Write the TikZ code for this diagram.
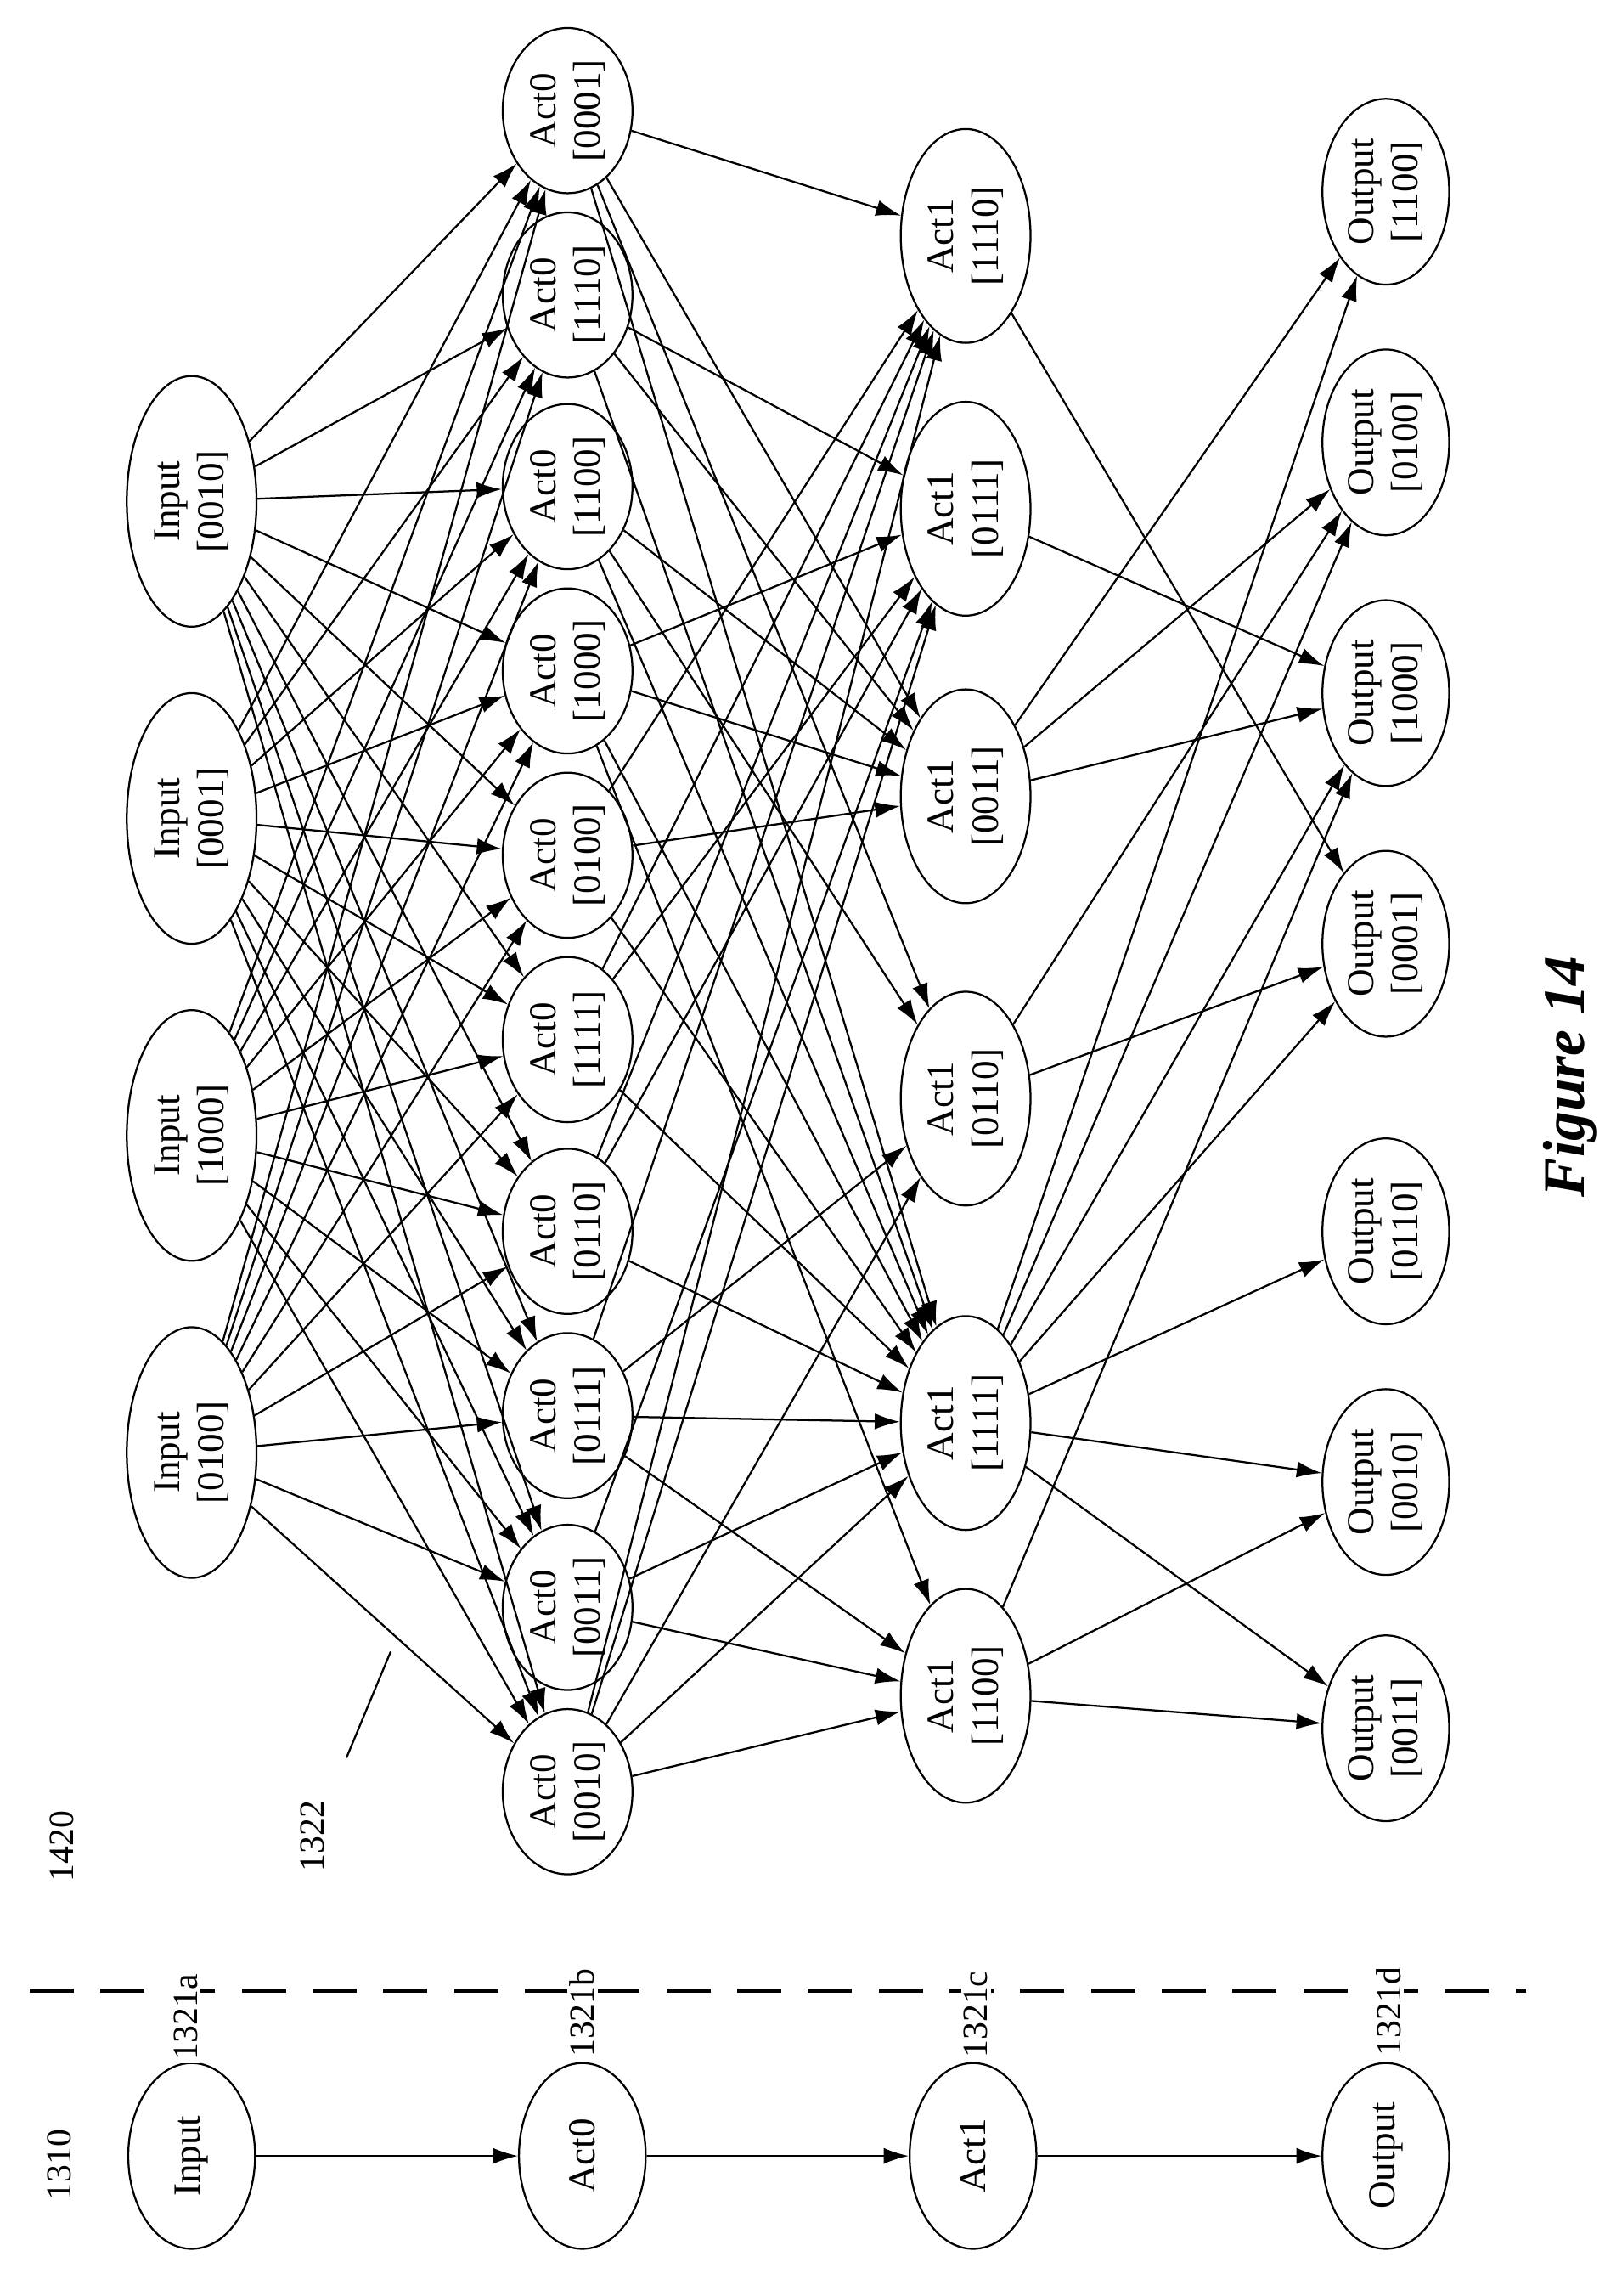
\documentclass[tikz,border=0pt]{standalone}
\usepackage{fontspec}
\setmainfont{Liberation Serif}
\usetikzlibrary{shapes.geometric, arrows.meta}
\begin{document}
\begin{tikzpicture}[x = 1pt, y = -1pt, line width = 1.3pt,
  box/.style = {draw = black, shape = ellipse, rotate = 90, inner sep = 0pt,
    align = center, font = \fontsize{26}{30}\selectfont},
  lbl/.style = {rotate = 90, inner sep = 2pt, font = \fontsize{24}{28}\selectfont},
  edge/.style = {draw, -{Latex[length = 17pt, width = 11pt]}}]
\useasboundingbox (0, 0) rectangle (1100, 1557);

% left chain
\node [box, minimum width = 126pt, minimum height = 86pt] (cin) at (130, 1462) {Input};
\node [box, minimum width = 126pt, minimum height = 86pt] (cact0) at (395, 1462) {Act0};
\node [box, minimum width = 126pt, minimum height = 86pt] (cact1) at (660, 1462) {Act1};
\node [box, minimum width = 126pt, minimum height = 86pt] (cout) at (940, 1462) {Output};
\path [edge] (cin) -- (cact0);
\path [edge] (cact0) -- (cact1);
\path [edge] (cact1) -- (cout);

\path [draw, line width = 3pt, dash pattern = on 30pt off 18pt] (20, 1350) -- (1035, 1350);

\node [lbl] (l1310) at (40, 1468) {1310};
\node [lbl, fill = white] (l1321a) at (126, 1368) {1321a};
\node [lbl, fill = white] (l1321b) at (395, 1365) {1321b};
\node [lbl, fill = white] (l1321c) at (662, 1366) {1321c};
\node [lbl, fill = white] (l1321d) at (942, 1364) {1321d};
\node [lbl] (l1420) at (42, 1252) {1420};
\node [lbl] (l1322) at (212, 1245) {1322};
\coordinate (s1322) at (235, 1192);
\coordinate (c1322) at (265, 1120);
\path [draw] (s1322) -- (c1322);

% input layer
\foreach \v/\y in {0100/985, 1000/770, 0001/555, 0010/340}
  \node [box, minimum width = 170pt, minimum height = 88pt] (in\v) at (130, \y) {Input\\{[}\v{]}};

% act0 layer
\foreach \v/\y in {0001/75, 1110/200, 1100/330, 1000/455, 0100/580, 1111/705, 0110/835, 0111/960, 0011/1090, 0010/1215}
  \node [box, minimum width = 112pt, minimum height = 88pt] (a\v) at (385, \y) {Act0\\{[}\v{]}};

% act1 layer
\foreach \v/\y in {1110/160, 0111/345, 0011/540, 0110/745, 1111/965, 1100/1150}
  \node [box, minimum width = 145pt, minimum height = 88pt] (b\v) at (655, \y) {Act1\\{[}\v{]}};

% output layer
\foreach \v/\y in {1100/130, 0100/300, 1000/470, 0001/640, 0110/835, 0010/1005, 0011/1172}
  \node [box, minimum width = 126pt, minimum height = 86pt] (o\v) at (940, \y) {Output\\{[}\v{]}};

% input -> act0
\foreach \s in {0100, 1000, 0001, 0010}
  \foreach \t in {0001, 1110, 1100, 1000, 0100, 1111, 0110, 0111, 0011, 0010}
    \path [edge] (in\s) -- (a\t);

% act0 -> act1
\foreach \s/\t in {0001/1110, 0001/1111, 0001/0011, 0001/0110,
  1110/0111, 1110/1111, 1110/0011,
  1100/0011, 1100/1111, 1100/0110,
  1000/0111, 1000/0011, 1000/1111, 1000/1100,
  0100/0011, 0100/1110, 0100/1111,
  1111/1110, 1111/1111, 1111/0111,
  0110/1111, 0110/1110, 0110/0111,
  0111/1111, 0111/0110, 0111/1100, 0111/1110,
  0011/1111, 0011/1100, 0011/0111,
  0010/1100, 0010/1111, 0010/0110, 0010/1110, 0010/0111}
  \path [edge] (a\s) -- (b\t);

% act1 -> output
\foreach \s/\t in {1110/0001, 0111/1000, 0011/1100, 0011/0100, 0011/1000,
  0110/0001, 0110/0100,
  1111/1100, 1111/0100, 1111/1000, 1111/0001, 1111/0110, 1111/0010, 1111/0011,
  1100/0010, 1100/0011, 1100/1000}
  \path [edge] (b\s) -- (o\t);

\node [rotate = 90, font = \fontsize{40}{44}\selectfont\bfseries\itshape] (fig) at (1065, 730) {Figure 14};
\end{tikzpicture}
\end{document}
